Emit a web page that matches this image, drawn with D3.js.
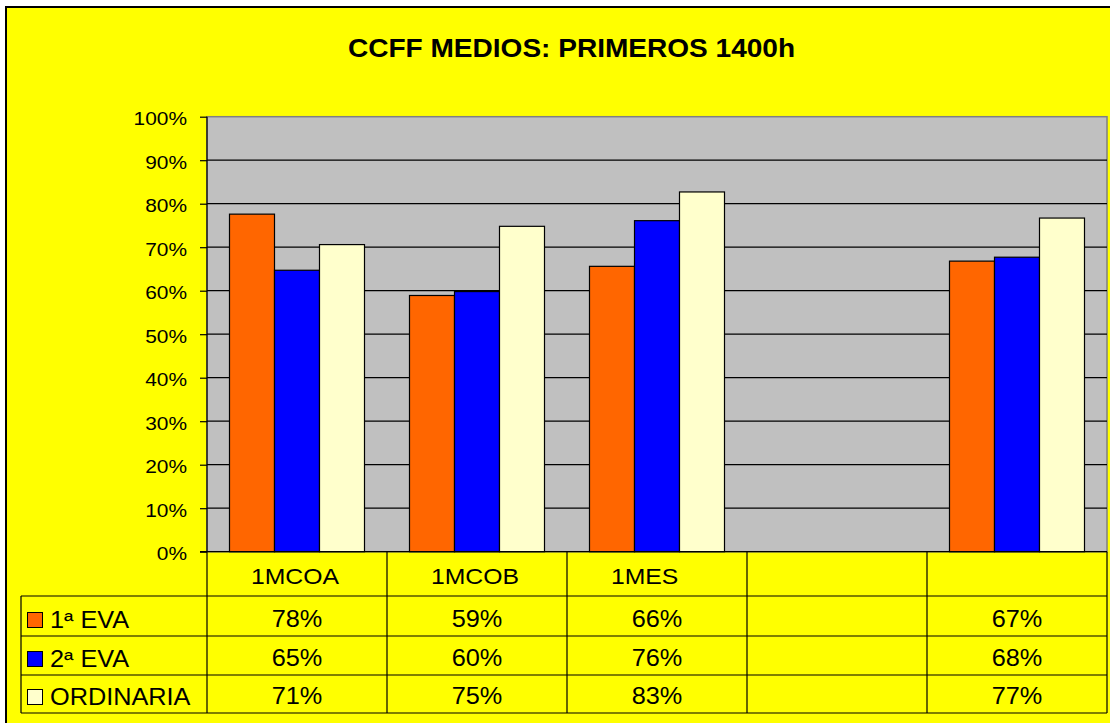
<!DOCTYPE html>
<html>
<head>
<meta charset="utf-8">
<script src="https://cdn.jsdelivr.net/npm/d3@7"></script>
<style>
  body { margin: 0; background: #ffffff; }
  text { font-family: "Liberation Sans", Arial, sans-serif; fill: #000; }
</style>
</head>
<body>
<div id="chart"></div>
<script>
// chart data
var categories = ["1MCOA", "1MCOB", "1MES", "", ""];
var seriesNames = ["1ª EVA", "2ª EVA", "ORDINARIA"];
var seriesColors = ["#FF6600", "#0000FF", "#FFFFCC"];
var eva1 = [0.776, 0.589, 0.656, null, 0.668];
var eva2 = [0.647, 0.598, 0.761, null, 0.677];
var ordinaria = [0.706, 0.748, 0.827, null, 0.767];
var yTicks = [0, 0.1, 0.2, 0.3, 0.4, 0.5, 0.6, 0.7, 0.8, 0.9, 1];
var title = "CCFF MEDIOS: PRIMEROS 1400h";

var seriesValues = [eva1, eva2, ordinaria];

var svgWidth = 1110;
var svgHeight = 723;

// plot area
var plot = { left: 207, right: 1107, top: 116.7, bottom: 551.7 };
// data table rows
var rowLines = [551.7, 596, 636, 675, 713];
var legendLeft = 21;
var stretch = 1.1; // excel text looks a bit wider than Arial

var svg = d3.select("#chart")
  .append("svg")
  .attr("width", svgWidth)
  .attr("height", svgHeight);

// background + frame
svg.append("rect")
  .attr("x", 6).attr("y", 7)
  .attr("width", svgWidth + 10).attr("height", svgHeight + 10)
  .attr("fill", "#FFFF00")
  .attr("stroke", "#000")
  .attr("stroke-width", 2);

function addText(g, x, y, str, size, anchor, weight) {
  return g.append("text")
    .attr("transform", `translate(${x}, ${y}) scale(${stretch}, 1)`)
    .attr("font-size", size)
    .attr("text-anchor", anchor || "start")
    .attr("font-weight", weight || "normal")
    .text(str);
}

// title
addText(svg, 571.5, 57, title, 25.5, "middle", "bold");

// scales
var x0 = d3.scaleBand()
  .domain(d3.range(categories.length))
  .range([plot.left, plot.right])
  .padding(0);

var x1 = d3.scaleBand()
  .domain(d3.range(seriesNames.length))
  .range([0, x0.bandwidth()])
  .paddingInner(0)
  .paddingOuter(0.5);

var y = d3.scaleLinear()
  .domain([0, 1])
  .range([plot.bottom, plot.top]);

// plot background
svg.append("rect")
  .attr("x", plot.left)
  .attr("y", plot.top)
  .attr("width", plot.right - plot.left)
  .attr("height", plot.bottom - plot.top)
  .attr("fill", "#C0C0C0")
  .attr("stroke", "#808080")
  .attr("stroke-width", 1.5);

// gridlines
svg.append("g")
  .selectAll("line")
  .data(yTicks.filter(d => d > 0 && d < 1))
  .enter()
  .append("line")
  .attr("x1", plot.left)
  .attr("x2", plot.right)
  .attr("y1", d => y(d))
  .attr("y2", d => y(d))
  .attr("stroke", "#000")
  .attr("stroke-width", 1.2);

// y axis
var leftAxis = d3.axisLeft(y)
  .tickValues(yTicks)
  .tickFormat(d3.format(".0%"))
  .tickSize(7)
  .tickSizeOuter(0)
  .tickPadding(6);

var yAxis = svg.append("g")
  .attr("transform", `translate(${plot.left}, 0)`)
  .call(leftAxis);

yAxis.select(".domain").remove();
yAxis.selectAll(".tick line").attr("stroke", "#000").attr("stroke-width", 1.2);
yAxis.selectAll(".tick text").remove();
yAxis.selectAll(".tick").each(function(d) {
  addText(d3.select(this), -20, 8, d3.format(".0%")(d), 19, "end");
});

// bars
var barGroups = svg.append("g")
  .selectAll("g")
  .data(seriesValues)
  .enter()
  .append("g")
  .attr("fill", (d, i) => seriesColors[i]);

barGroups.each(function(vals, si) {
  d3.select(this).selectAll("rect")
    .data(vals.map((v, ci) => ({ v: v, ci: ci })).filter(d => d.v != null))
    .enter()
    .append("rect")
    .attr("x", d => x0(d.ci) + x1(si))
    .attr("y", d => y(d.v))
    .attr("width", x1.bandwidth())
    .attr("height", d => y(0) - y(d.v))
    .attr("stroke", "#000")
    .attr("stroke-width", 1.2);
});

// x axis line
svg.append("line")
  .attr("x1", plot.left - 7).attr("x2", plot.right)
  .attr("y1", plot.bottom).attr("y2", plot.bottom)
  .attr("stroke", "#000").attr("stroke-width", 1.2);

// vertical axis line down through the table
svg.append("line")
  .attr("x1", plot.left).attr("x2", plot.left)
  .attr("y1", plot.top).attr("y2", rowLines[rowLines.length - 1])
  .attr("stroke", "#000").attr("stroke-width", 1.2);

// data table
var table = svg.append("g");

// horizontal row lines
table.selectAll("line.row")
  .data(rowLines.slice(1))
  .enter()
  .append("line")
  .attr("class", "row")
  .attr("x1", legendLeft)
  .attr("x2", plot.right)
  .attr("y1", d => d)
  .attr("y2", d => d)
  .attr("stroke", "#000")
  .attr("stroke-width", 1.2);

// column separators
table.selectAll("line.col")
  .data(d3.range(1, categories.length + 1))
  .enter()
  .append("line")
  .attr("class", "col")
  .attr("x1", d => x0(0) + d * x0.bandwidth())
  .attr("x2", d => x0(0) + d * x0.bandwidth())
  .attr("y1", rowLines[0])
  .attr("y2", rowLines[rowLines.length - 1])
  .attr("stroke", "#000")
  .attr("stroke-width", 1.2);

// legend column left edge
table.append("line")
  .attr("x1", legendLeft).attr("x2", legendLeft)
  .attr("y1", rowLines[1]).attr("y2", rowLines[rowLines.length - 1])
  .attr("stroke", "#000").attr("stroke-width", 1.2);

// category labels
categories.forEach(function(c, ci) {
  addText(table, x0(ci) + 44, 583.5, c, 22.5, "start");
});

// value rows with legend keys
var pct = d3.format(".0%");
seriesNames.forEach(function(name, si) {
  var top = rowLines[si + 1];
  var bottom = rowLines[si + 2];
  var base = bottom - 9;
  table.append("rect")
    .attr("x", 27.5)
    .attr("y", base - 14.5)
    .attr("width", 15)
    .attr("height", 15)
    .attr("fill", seriesColors[si])
    .attr("stroke", "#000")
    .attr("stroke-width", 1);
  addText(table, 50, base + 1, name, 23, "start");
  seriesValues[si].forEach(function(v, ci) {
    if (v == null) return;
    addText(table, x0(ci) + x0.bandwidth() / 2, base, pct(v), 23, "middle");
  });
});
</script>
</body>
</html>
